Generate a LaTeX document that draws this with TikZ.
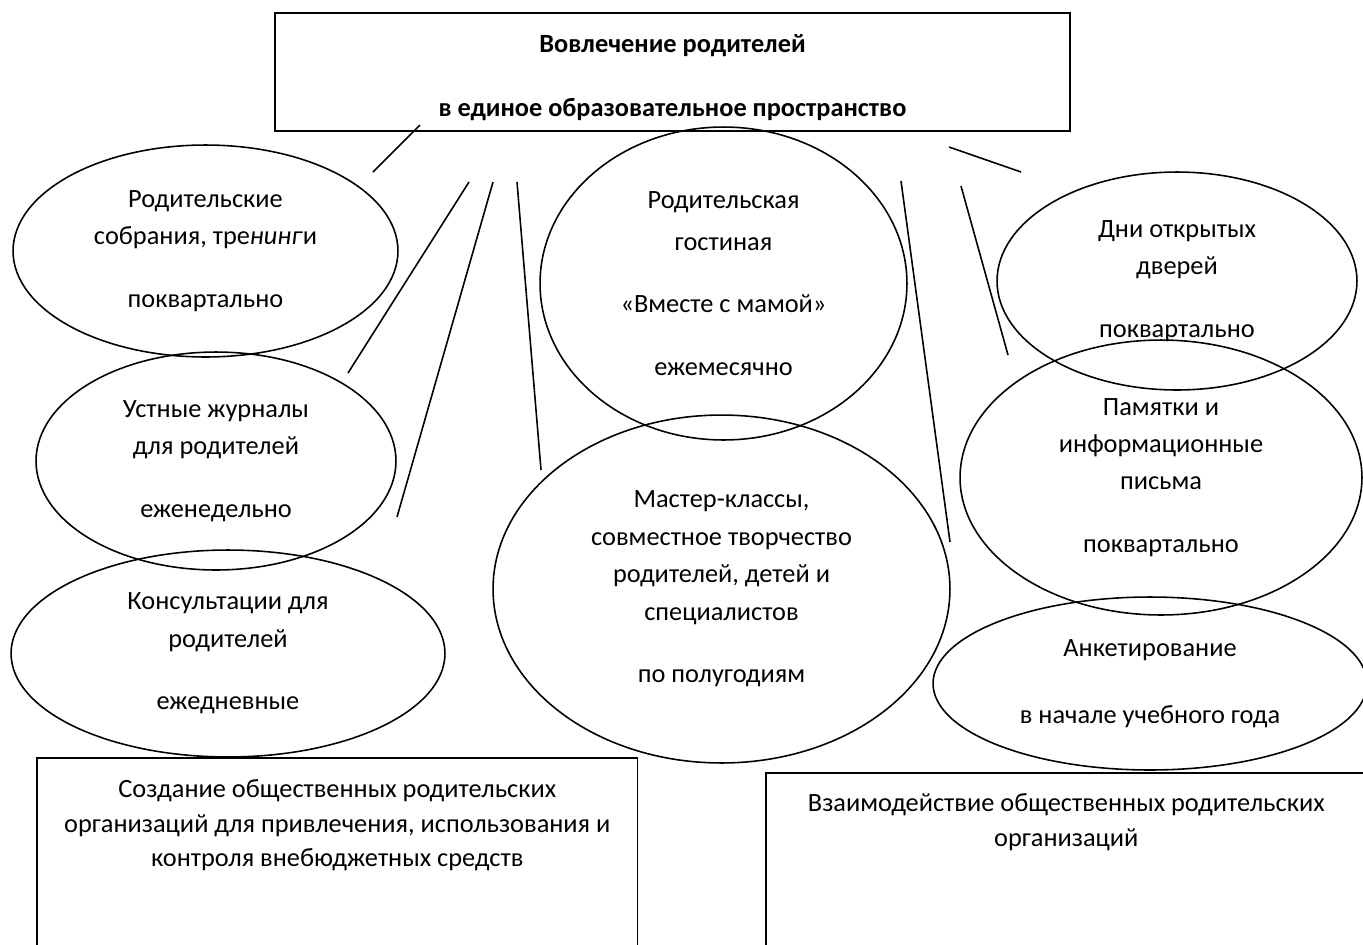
\documentclass[tikz,border=0pt]{standalone}
\usepackage{fontspec}
\setmainfont{Carlito}
\usepackage{tikz}
\usetikzlibrary{shapes, positioning}
\tikzset{
    oval/.style={ellipse, draw, line width=0.9pt, inner sep=0pt, align=center, font=\fontsize{15}{21.3}\selectfont},
    box/.style={rectangle, draw, line width=0.9pt, inner sep=0pt},
    titletext/.style={align=center, inner sep=0pt, font=\bfseries\fontsize{15}{21.3}\selectfont},
    boxtext/.style={align=center, inner sep=0pt, font=\fontsize{15}{19.8}\selectfont},
    link/.style={line width=0.9pt}
}

\begin{document}
\begin{tikzpicture}[x=0.02cm, y=-0.02cm]
        \useasboundingbox (0,0) rectangle (1363,944);

        \node (titleBox) [box, minimum width=15.9cm, minimum height=2.36cm] at (672.5,72) {};
        \node (titleText) [titletext, below=0.43cm of titleBox.north] {Вовлечение родителей\\[15.6pt] в единое образовательное пространство};

        % Left column
        \node (meetings) [oval, minimum width=7.7cm, minimum height=4.24cm] at (205.5,251) {Родительские\\ собрания, тре\textit{нинг}и\\[14.4pt] поквартально};
        \node (journals) [oval, minimum width=7.2cm, minimum height=4.36cm] at (216,461) {Устные журналы\\ для родителей\\[14.4pt] еженедельно};
        \node (consult) [oval, minimum width=8.68cm, minimum height=4.14cm] at (228,653.5) {Консультации для\\ родителей\\[14.4pt] ежедневные};

        % Middle column
        \node (lounge) [oval, minimum width=7.34cm, minimum height=6.26cm] at (723.5,283.5) {Родительская\\[2.5pt] гостиная\\[14.4pt] «Вместе с мамой»\\[14.4pt] ежемесячно};
        \node (master) [oval, minimum width=9.14cm, minimum height=6.96cm] at (721.5,589) {Мастер-классы,\\ совместное творчество\\ родителей, детей и\\ специалистов\\[14.4pt] по полугодиям};

        % Right column
        \node (opendays) [oval, minimum width=7.2cm, minimum height=4.36cm] at (1177,281) {Дни открытых\\ дверей\\[14.4pt] поквартально};
        \node (memos) [oval, minimum width=8.04cm, minimum height=5.5cm] at (1161,477.5) {Памятки и\\ информационные\\ письма\\[14.4pt] поквартально};
        \node (survey) [oval, minimum width=8.68cm, minimum height=3.46cm] at (1150,683.5) {Анкетирование\\[16.7pt] в начале учебного года};

        % Bottom boxes
        \node (orgBox) [box, anchor=north west, minimum width=12.02cm, minimum height=4.2cm] at (36,757) {};
        \node (orgText) [boxtext, below=0.44cm of orgBox.north] {Создание общественных родительских\\ организаций для привлечения, использования и\\ контроля внебюджетных средств};
        \node (linkBox) [box, anchor=north west, minimum width=12.02cm, minimum height=4.0cm] at (765,772) {};
        \node (linkText) [boxtext, below=0.42cm of linkBox.north] {Взаимодействие общественных родительских\\ организаций};

        % Loose strokes
        \coordinate (s1a) at (420,125);  \coordinate (s1b) at (373,172);
        \coordinate (s2a) at (469,182);  \coordinate (s2b) at (348,373);
        \coordinate (s3a) at (493,182);  \coordinate (s3b) at (397,517);
        \coordinate (s4a) at (517,182);  \coordinate (s4b) at (541,470);
        \coordinate (s5a) at (949,147);  \coordinate (s5b) at (1021,172);
        \coordinate (s6a) at (901,181);  \coordinate (s6b) at (950,542);
        \coordinate (s7a) at (961,186);  \coordinate (s7b) at (1008,355);

        \draw [link] (s1a) -- (s1b);
        \draw [link] (s2a) -- (s2b);
        \draw [link] (s3a) -- (s3b);
        \draw [link] (s4a) -- (s4b);
        \draw [link] (s5a) -- (s5b);
        \draw [link] (s6a) -- (s6b);
        \draw [link] (s7a) -- (s7b);
    \end{tikzpicture}
\end{document}
